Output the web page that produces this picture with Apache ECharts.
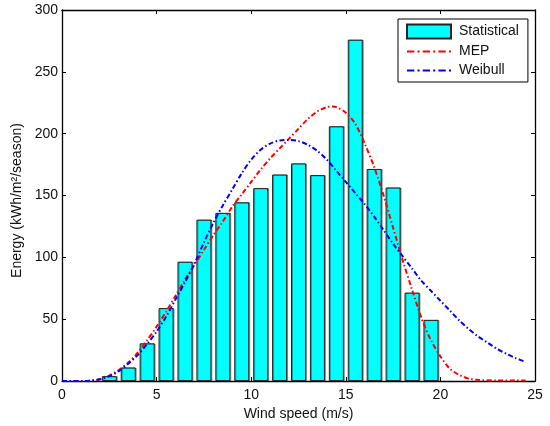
<!DOCTYPE html>
<html>
<head>
<meta charset="utf-8">
<script src="https://cdn.jsdelivr.net/npm/echarts@6/dist/echarts.min.js"></script>
<style>html,body{margin:0;padding:0;background:#fff}#c{width:550px;height:426px}</style>
</head>
<body>
<div id="c"></div>
<script>
// Histogram (bar centres in m/s and energy values)
var barSpeeds = [2.5, 3.5, 4.5, 5.5, 6.5, 7.5, 8.5, 9.5, 10.5, 11.5, 12.5, 13.5, 14.5, 15.5, 16.5, 17.5, 18.5, 19.5];
var barEnergy = [4, 11, 30.5, 59, 96.5, 130.5, 136, 144.5, 156, 167, 176, 166.5, 206, 276, 171.5, 156.5, 71.5, 49.5];

// MEP curve
var mepSpeeds = [0, 0.5, 1, 1.5, 2, 2.5, 3, 3.5, 4, 4.5, 5, 5.5, 6, 6.5, 7, 7.5, 8, 8.5, 9, 9.5, 10, 10.5, 11, 11.5, 12, 12.5, 13, 13.5, 14, 14.3, 14.5, 15, 15.5, 16, 16.5, 17, 17.5, 18, 18.5, 19, 19.5, 20, 20.5, 21, 21.5, 22, 23, 24, 24.5];
var mepEnergy = [0, 0, 0, 0.3, 1.5, 4.5, 9, 15, 23, 33, 44, 56, 69, 82, 94, 106, 118, 129, 141, 151, 161, 171, 180, 188, 196, 204, 212, 218, 221.5, 222, 221.5, 217, 208, 192, 173, 150, 124, 98, 74, 51, 33, 20, 10, 5, 2, 1, 0.5, 0.5, 0.5];

// Weibull curve
var weiSpeeds = [0, 0.5, 1, 1.5, 2, 2.5, 3, 3.5, 4, 4.5, 5, 5.5, 6, 6.5, 7, 7.5, 8, 8.5, 9, 9.5, 10, 10.5, 11, 11.5, 12, 12.5, 13, 13.5, 14, 14.5, 15, 15.5, 16, 16.5, 17, 17.5, 18, 18.5, 19, 19.5, 20, 20.5, 21, 21.5, 22, 22.5, 23, 23.5, 24, 24.5];
var weiEnergy = [0, 0, 0, 0.3, 1.5, 4, 8, 14, 21, 30, 40, 52, 66, 80, 95, 112, 128, 142, 155, 168, 179, 187, 192, 194.5, 195, 194, 191, 186, 179, 170, 161, 152, 143, 133, 122, 111, 101, 91, 81, 73, 65, 57, 49, 42, 36, 31, 26, 22, 18.5, 15.5];

// Axis ticks
var xTicks = [0, 5, 10, 15, 20, 25];
var yTicks = [0, 50, 100, 150, 200, 250, 300];

function pairs(xs, ys) { return xs.map(function (x, i) { return [x, ys[i]]; }); }

var FONT = '"Liberation Sans", Arial, sans-serif';
var fs = 14;
var DASHDOT_ICON = 'path://M0,0h7v2h-7z M10,0h2v2h-2z M15,0h7v2h-7z M25,0h2v2h-2z M30,0h7v2h-7z M40,0h2v2h-2z';

var axisCommon = {
  axisLine: { show: true, onZero: false, lineStyle: { color: '#000', width: 1.3 } },
  axisTick: { show: true, inside: true, length: 4, lineStyle: { color: '#000', width: 1 } },
  splitLine: { show: false }
};

var chart = echarts.init(document.getElementById('c'), null, { renderer: 'canvas' });
chart.setOption({
  animation: false,
  backgroundColor: '#fff',
  textStyle: { fontFamily: FONT },
  grid: { left: 62, top: 10, right: 15, bottom: 43, containLabel: false },
  legend: {
    orient: 'vertical',
    left: 398, top: 19,
    backgroundColor: '#fff',
    borderColor: '#000', borderWidth: 1, borderRadius: 0,
    padding: [4.5, 9, 4.5, 8],
    itemWidth: 44, itemHeight: 14, itemGap: 5,
    textStyle: { fontFamily: FONT, fontSize: fs, color: '#111', lineHeight: 14, padding: [0, 0, 0, 3] },
    data: [
      { name: 'Statistical', icon: 'rect' },
      { name: 'MEP', icon: DASHDOT_ICON, itemStyle: { color: '#FF0000', borderWidth: 0 } },
      { name: 'Weibull', icon: DASHDOT_ICON, itemStyle: { color: '#0000FF', borderWidth: 0 } }
    ]
  },
  xAxis: [
    Object.assign({
      type: 'value', min: xTicks[0], max: xTicks[xTicks.length - 1], interval: 5, position: 'bottom',
      name: 'Wind speed (m/s)', nameLocation: 'middle', nameGap: 21,
      nameTextStyle: { fontFamily: FONT, fontSize: fs, color: '#111' },
      axisLabel: { fontFamily: FONT, fontSize: fs, color: '#111', margin: 7 }
    }, axisCommon),
    Object.assign({
      type: 'value', min: xTicks[0], max: xTicks[xTicks.length - 1], interval: 5, position: 'top',
      axisLabel: { show: false }
    }, axisCommon)
  ],
  yAxis: [
    Object.assign({
      type: 'value', min: yTicks[0], max: yTicks[yTicks.length - 1], interval: 50, position: 'left',
      name: 'Energy (kWh/m²/season)', nameLocation: 'middle', nameGap: 33,
      nameTextStyle: { fontFamily: FONT, fontSize: fs, color: '#111', padding: [0, 10, 0, 0] },
      axisLabel: { fontFamily: FONT, fontSize: fs, color: '#111', margin: 4 }
    }, axisCommon),
    Object.assign({
      type: 'value', min: yTicks[0], max: yTicks[yTicks.length - 1], interval: 50, position: 'right',
      axisLabel: { show: false }
    }, axisCommon)
  ],
  series: [
    {
      name: 'Statistical', type: 'bar', xAxisIndex: 0, yAxisIndex: 0,
      data: pairs(barSpeeds, barEnergy), barWidth: 15,
      itemStyle: { color: '#00FFFF', borderColor: '#222', borderWidth: 1,
        shadowColor: 'rgba(0,0,0,0.35)', shadowOffsetX: 1, shadowOffsetY: 0, shadowBlur: 0 },
      z: 2
    },
    {
      name: 'MEP', type: 'line', xAxisIndex: 0, yAxisIndex: 0,
      data: pairs(mepSpeeds, mepEnergy), smooth: 0.3, showSymbol: false, symbol: 'none',
      lineStyle: { color: '#FF0000', width: 2, type: [5, 2.5, 1.5, 2.5] },
      itemStyle: { color: '#FF0000' },
      z: 3
    },
    {
      name: 'Weibull', type: 'line', xAxisIndex: 0, yAxisIndex: 0,
      data: pairs(weiSpeeds, weiEnergy), smooth: 0.3, showSymbol: false, symbol: 'none',
      lineStyle: { color: '#0000FF', width: 2, type: [5, 2.5, 1.5, 2.5] },
      itemStyle: { color: '#0000FF' },
      z: 3
    }
  ]
});
</script>
</body>
</html>
